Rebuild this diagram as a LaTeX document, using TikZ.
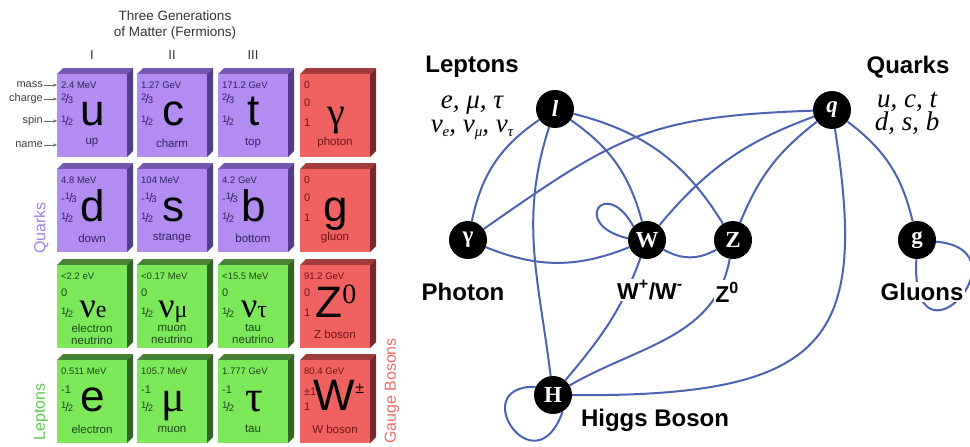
\documentclass[tikz,border=0pt]{standalone}
\usepackage{fontspec}
\setmainfont{Liberation Sans}
\newfontfamily\serif{Liberation Serif}
\usetikzlibrary{arrows.meta}
\pgfdeclarelayer{bg}
\pgfdeclarelayer{paper}
\pgfsetlayers{paper,bg,main}
\definecolor{linkblue}{RGB}{76,98,178}
\definecolor{qfront}{RGB}{178,140,240}
\definecolor{qtop}{RGB}{118,88,178}
\definecolor{qside}{RGB}{84,60,138}
\definecolor{qtext}{RGB}{50,35,100}
\definecolor{lfront}{RGB}{125,232,90}
\definecolor{ltop}{RGB}{72,130,52}
\definecolor{lside}{RGB}{50,100,36}
\definecolor{ltext}{RGB}{25,70,25}
\definecolor{bfront}{RGB}{240,98,98}
\definecolor{btop}{RGB}{160,60,60}
\definecolor{bside}{RGB}{120,40,40}
\definecolor{btext}{RGB}{110,20,20}
\definecolor{quarklbl}{RGB}{160,130,225}
\definecolor{leptonlbl}{RGB}{95,200,80}
\definecolor{bosonlbl}{RGB}{235,110,110}
\newcommand\fsz[1]{\fontsize{#1}{#1}\selectfont}
\newcommand\vf[2]{\raisebox{0.3em}{\fsz{9.5}#1}\kern-0.1em{\fsz{12.5}/}\kern-0.1em{\fsz{9.5}#2}}
\newcommand\sbs[1]{\raisebox{-4pt}{\fsz{15}#1}}
\def\cy{28}\def\sy{49}\def\by{51}
\tikzset{
  tmass/.style={anchor=west, inner sep=0pt, font=\fsz{9.5}},
  tsmall/.style={anchor=west, inner sep=0pt, font=\fsz{11}},
  tbig/.style={anchor=base, inner sep=0pt, font=\fsz{44}},
  tname/.style={anchor=center, inner sep=0pt, align=center, font=\fontsize{11.5}{12}\selectfont},
  ann/.style={anchor=east, inner sep=0pt, text=black!75, font=\fsz{11}},
  annarr/.style={-{Stealth[length=4pt,width=3pt]}, black!60, line width=0.5pt, shorten <=1pt},
  ball/.style={circle, fill=black, minimum size=38pt, inner sep=0pt, text=white, font=\serif\bfseries\fsz{23}},
  biglbl/.style={font=\bfseries\fsz{24}, fill=white, inner sep=1.5pt},
  lst/.style={anchor=base, inner sep=0pt, font=\serif\itshape\fsz{27}},
  link/.style={draw=linkblue, line width=2pt},
  vlbl/.style={rotate=90, inner sep=0pt, font=\fsz{16}}
}
\newcommand\Tile[9]{%
  \fill[#3top] (#1,#2) -- (#1+6,#2-6) -- (#1+76,#2-6) -- (#1+70,#2) -- cycle;
  \fill[#3side] (#1+70,#2) -- (#1+76,#2-6) -- (#1+76,#2+77) -- (#1+70,#2+83) -- cycle;
  \fill[#3front] (#1,#2) rectangle (#1+70,#2+83);
  \node[tmass,text=#3text] (#4-m) at (#1+4,#2+11) {#5};
  \node[tsmall,text=#3text] (#4-c) at (#1+4,#2+\cy) {#6};
  \node[tsmall,text=#3text] (#4-s) at (#1+4,#2+\sy) {#7};
  \node[tbig] (#4-b) at (#1+36,#2+\by) {#8};
  \node[tname,text=#3text] (#4-n) at (#1+35,#2+69) {#9};
}
\begin{document}
\begin{tikzpicture}[x=1pt,y=-1pt]
\begin{pgfonlayer}{paper}
\fill[white] (0,0) rectangle (970,447);
\end{pgfonlayer}
\useasboundingbox (0,0) rectangle (970,447);
% ---------- left panel ----------
\node[align=center, text=black!80, font=\fontsize{13.5}{16}\selectfont] (hdr) at (175,25) {Three Generations\\of Matter (Fermions)};
\node[text=black!80, font=\fsz{13}] (g1) at (92,55) {I};
\node[text=black!80, font=\fsz{13}] (g2) at (172,55) {II};
\node[text=black!80, font=\fsz{13}] (g3) at (253,55) {III};
% row 1
\def\cy{25}\def\sy{47}\def\by{51}
\Tile{57}{74}{q}{tu}{2.4 MeV}{\vf{2}{3}}{\vf{1}{2}}{u}{up}
\Tile{137}{74}{q}{tc}{1.27 GeV}{\vf{2}{3}}{\vf{1}{2}}{c}{charm}
\Tile{218}{74}{q}{tt}{171.2 GeV}{\vf{2}{3}}{\vf{1}{2}}{t}{top}
\def\cy{29}\def\sy{49}
\Tile{300}{74}{b}{tgam}{\fsz{10.5}0}{0}{1}{{\serif\fsz{40}γ}}{photon}
% row 2
\def\cy{29}\def\sy{49}\def\by{52}
\Tile{57}{169}{q}{td}{4.8 MeV}{-\vf{1}{3}}{\vf{1}{2}}{d}{down}
\Tile{137}{169}{q}{ts}{104 MeV}{-\vf{1}{3}}{\vf{1}{2}}{s}{strange}
\Tile{218}{169}{q}{tb}{4.2 GeV}{-\vf{1}{3}}{\vf{1}{2}}{b}{bottom}
\Tile{300}{169}{b}{tg}{\fsz{10.5}0}{0}{1}{g}{gluon}
% row 3
\def\cy{28}\def\sy{48}\def\by{52}
\Tile{57}{265}{l}{tne}{<2.2 eV}{0}{\vf{1}{2}}{{\serif\fsz{36}ν\fsz{24}e}}{electron\\neutrino}
\Tile{137}{265}{l}{tnm}{<0.17 MeV}{0}{\vf{1}{2}}{{\serif\fsz{36}ν\fsz{24}μ}}{muon\\neutrino}
\Tile{218}{265}{l}{tnt}{<15.5 MeV}{0}{\vf{1}{2}}{{\serif\fsz{36}ν\fsz{24}τ}}{tau\\neutrino}
\Tile{300}{265}{b}{tz}{91.2 GeV}{0}{1}{Z\raisebox{14pt}{\serif\fsz{28}0}}{Z boson}
% row 4
\def\cy{30}\def\sy{47}\def\by{51}
\Tile{57}{360}{l}{te}{0.511 MeV}{-1}{\vf{1}{2}}{e}{electron}
\Tile{137}{360}{l}{tm}{105.7 MeV}{-1}{\vf{1}{2}}{{\serif\fsz{44}μ}}{muon}
\Tile{218}{360}{l}{ttau}{1.777 GeV}{-1}{\vf{1}{2}}{{\serif\fsz{44}τ}}{tau}
\def\cy{32}\def\sy{47}\def\by{50}
\Tile{300}{360}{b}{tw}{80.4 GeV}{±1}{1}{\kern6pt W\raisebox{17pt}{\fsz{16}±}}{W boson}
% annotations
\node[ann] (amass) at (43,85) {mass};
\node[ann] (acharge) at (43,99) {charge};
\node[ann] (aspin) at (43,121) {spin};
\node[ann] (aname) at (43,145) {name};
\coordinate (pmass) at (57,85);
\coordinate (pcharge) at (57,99);
\coordinate (pspin) at (57,121);
\coordinate (pname) at (57,145);
\draw[annarr] (amass.east) -- (pmass);
\draw[annarr] (acharge.east) -- (pcharge);
\draw[annarr] (aspin.east) -- (pspin);
\draw[annarr] (aname.east) -- (pname);
\node[vlbl, text=quarklbl] (vq) at (41,228) {Quarks};
\node[vlbl, text=leptonlbl] (vl) at (41,412) {Leptons};
\node[vlbl, text=bosonlbl] (vb) at (392,391) {Gauge Bosons};
% ---------- right panel ----------
\node[ball] (l) at (555,109) {\itshape l};
\node[ball] (q) at (832,110) {\itshape q};
\node[ball] (gam) at (468,240) {γ};
\node[ball] (W) at (647,240) {W};
\node[ball] (Z) at (733,240) {Z};
\node[ball] (g) at (917,240) {g};
\node[ball] (H) at (553,395) {H};
\begin{pgfonlayer}{bg}
\draw[link] (l) to[bend right=22] (gam);
\draw[link] (l) to[out=-108, in=97] (H);
\draw[link] (l) to[bend left=20] (W);
\draw[link] (l) to[bend left=22] (Z);
\draw[link] (q) to[out=182, in=35, looseness=1.2] (gam);
\draw[link] (q) to[bend right=15] (W);
\draw[link] (q) to[bend right=15] (Z);
\draw[link] (q) .. controls (868,340) and (830,397) .. (H);
\draw[link] (q) to[bend left=20] (g);
\draw[link] (gam) to[bend right=22] (W);
\draw[link] (W) to[bend right=30] (Z);
\draw[link] (W.135) .. controls (605,175) and (570,225) .. (W.175);
\draw[link] (W) to[out=-110, in=50] (H);
\draw[link] (Z) to[out=-100, in=30] (H);
\draw[link] (H.155) .. controls (465,385) and (535,490) .. (H.-60);
\draw[link] (g.-92) .. controls (910,380) and (1030,250) .. (g.-5);
\end{pgfonlayer}
\node[biglbl] (tlep) at (472,67) {Leptons};
\node[biglbl] (tqua) at (908,67) {Quarks};
\node[lst] (ll1) at (472,108) {e, μ, τ};
\node[lst] (ll2) at (472,132) {ν\sbs{e}, ν\sbs{μ}, ν\sbs{τ}};
\node[lst] (ql1) at (907,107) {u, c, t};
\node[lst] (ql2) at (907,130) {d, s, b};
\node[biglbl] (tph) at (463,292) {Photon};
\node[biglbl, font=\bfseries\fsz{23}] (twl) at (650,290) {W\textsuperscript{+}/W\textsuperscript{-}};
\node[biglbl, font=\bfseries\fsz{23}] (tzl) at (727,292) {Z\textsuperscript{0}};
\node[biglbl] (tgl) at (922,292) {Gluons};
\node[biglbl] (thl) at (655,420) {Higgs Boson};
\end{tikzpicture}
\end{document}
